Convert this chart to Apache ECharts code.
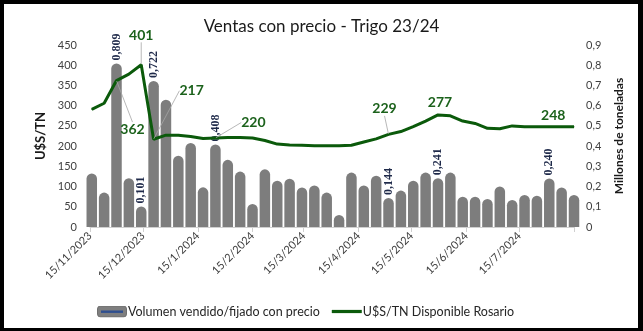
<!DOCTYPE html>
<html>
<head>
<meta charset="utf-8">
<script src="https://cdn.jsdelivr.net/npm/echarts@6/dist/echarts.min.js"></script>
<style>
  html, body { margin: 0; padding: 0; background: #fff; }
  #wrap { position: relative; width: 643px; height: 331px; }
  #chart { position: absolute; left: 0; top: 0; width: 643px; height: 331px; }
  #frame { position: absolute; left: 0; top: 0; width: 643px; height: 331px; box-sizing: border-box;
           border-style: solid; border-color: #000; border-width: 4px 5px 3px 4px; pointer-events: none; }
</style>
</head>
<body>
<div id="wrap"><div id="chart"></div><div id="frame"></div></div>
<script>
// Weekly wheat sales with price fixed (million tonnes) and Rosario spot price (USD/t)
const weekDates = [
  '16/11/2023','23/11/2023','30/11/2023','7/12/2023','14/12/2023','21/12/2023','28/12/2023',
  '4/1/2024','11/1/2024','18/1/2024','25/1/2024','1/2/2024','8/2/2024','15/2/2024','22/2/2024','29/2/2024',
  '7/3/2024','14/3/2024','21/3/2024','28/3/2024','4/4/2024','11/4/2024','18/4/2024','25/4/2024',
  '2/5/2024','9/5/2024','16/5/2024','23/5/2024','30/5/2024','6/6/2024','13/6/2024','20/6/2024','27/6/2024',
  '4/7/2024','11/7/2024','18/7/2024','25/7/2024','1/8/2024','8/8/2024','15/8/2024'
];
const volumeMt = [
  0.265, 0.170, 0.809, 0.241, 0.101, 0.722, 0.629, 0.352, 0.415, 0.196,
  0.408, 0.332, 0.274, 0.114, 0.285, 0.229, 0.239, 0.195, 0.205, 0.170,
  0.059, 0.269, 0.205, 0.254, 0.144, 0.180, 0.229, 0.269, 0.241, 0.269,
  0.150, 0.150, 0.139, 0.200, 0.134, 0.158, 0.155, 0.240, 0.195, 0.158
];
const priceUsd = [
  291, 306, 362, 378, 401, 217, 227, 227, 224, 219,
  220, 221, 221, 220, 214, 205, 203, 202, 201, 201,
  201, 202, 210, 218, 229, 236, 248, 262, 277, 275,
  262, 256, 244, 243, 250, 248, 248, 248, 248, 248
];
// weeks whose values are printed on the chart
const labelledWeeks = [2, 4, 5, 10, 24, 28, 37];
const monthTicks = ['15/11/2023','15/12/2023','15/1/2024','15/2/2024','15/3/2024','15/4/2024','15/5/2024','15/6/2024','15/7/2024'];
const axisStart = '15/11/2023';
const axisEnd = '15/8/2024';

const DAY = 86400000;
function toTime(s) {
  const p = s.split('/').map(Number);
  return Date.UTC(p[2], p[1] - 1, p[0]);
}
// x positions are whole days counted from the axis start
const toDay = (s) => Math.round((toTime(s) - toTime(axisStart)) / DAY);
const tickDays = monthTicks.map(toDay);
const tickText = {};
monthTicks.forEach((t) => { tickText[toDay(t)] = t; });
const comma = (v) => String(v).replace('.', ',');

// label placement for the price annotations (pixel shifts from the default "top" spot)
const priceLabelShift = { 2: [16, 61], 4: [0, -17], 5: [38, -36], 10: [38, -3], 24: [-4, -13], 28: [2, 0], 37: [4, 1] };
const noGuide = [28, 37];

const volumeData = weekDates.map((d, i) => {
  const item = { value: [toDay(d), volumeMt[i]] };
  if (labelledWeeks.includes(i)) item.label = { show: true };
  return item;
});
const priceData = weekDates.map((d, i) => {
  const item = { value: [toDay(d), priceUsd[i]] };
  if (labelledWeeks.includes(i)) {
    item.label = { show: true };
    item.labelLine = { show: !noGuide.includes(i) };
  }
  return item;
});

const font = 'Lato, "Open Sans", sans-serif';
const legendBarIcon = 'image://data:image/svg+xml;utf8,' + encodeURIComponent(
  '<svg xmlns="http://www.w3.org/2000/svg" width="30" height="12"><rect x="0.5" y="0.5" width="29" height="11" rx="3" fill="#7f7f7f" stroke="#6f6f6f"/><rect x="4" y="5" width="22" height="2.4" fill="#2f4f8f"/></svg>'
);

const chart = echarts.init(document.getElementById('chart'), null, { renderer: 'canvas' });
chart.setOption({
  animation: false,
  backgroundColor: '#fff',
  title: {
    text: 'Ventas con precio - Trigo 23/24',
    left: 'center', top: 13,
    textStyle: { fontFamily: font, fontSize: 17, fontWeight: 'normal', color: '#1a1a1a' }
  },
  legend: {
    left: 92, top: 300,
    itemWidth: 30, itemHeight: 12, itemGap: 12,
    textStyle: { fontFamily: font, fontSize: 12.5, color: '#262626', padding: [0, 0, 0, -4] },
    data: [
      { name: 'Volumen vendido/fijado con precio', icon: legendBarIcon },
      { name: 'U$S/TN Disponible Rosario', icon: 'path://M0,0H28V3H0Z', itemStyle: { color: '#0b5a0b' } }
    ]
  },
  grid: { left: 90, right: 69, top: 45, bottom: 104 },
  xAxis: {
    type: 'value',
    min: 0,
    max: toDay(axisEnd),
    splitLine: { show: false },
    axisLine: { lineStyle: { color: '#d0d0d0' } },
    axisTick: { show: true, length: 5, lineStyle: { color: '#d0d0d0' },
                customValues: tickDays.concat([toDay(axisEnd)]) },
    axisLabel: {
      rotate: 45, margin: 7, fontFamily: font, fontSize: 11, color: '#404040',
      customValues: tickDays,
      formatter: (v) => tickText[Math.round(v)] || ''
    }
  },
  yAxis: [
    {
      type: 'value', min: 0, max: 450, interval: 50,
      name: 'U$S/TN', nameLocation: 'middle', nameGap: 34, nameRotate: 90,
      nameTextStyle: { fontFamily: font, fontSize: 13, fontWeight: 'bold', color: '#1a1a1a' },
      splitLine: { show: false },
      axisLine: { show: false }, axisTick: { show: false },
      axisLabel: { margin: 13, fontFamily: font, fontSize: 11, color: '#404040' }
    },
    {
      type: 'value', min: 0, max: 0.9, interval: 0.1,
      name: 'Millones de toneladas', nameLocation: 'middle', nameGap: 39, nameRotate: 90,
      nameTextStyle: { fontFamily: font, fontSize: 12, fontWeight: 'bold', color: '#1a1a1a' },
      splitLine: { show: false },
      axisLine: { show: false }, axisTick: { show: false },
      axisLabel: { margin: 12, fontFamily: font, fontSize: 11, color: '#404040',
                   formatter: (v) => comma(Math.round(v * 10) / 10) }
    }
  ],
  series: [
    {
      name: 'Volumen vendido/fijado con precio',
      type: 'bar',
      yAxisIndex: 1,
      barWidth: 10.5,
      clip: true,
      itemStyle: { color: '#7d7d7d', borderRadius: [5.25, 5.25, 0, 0] },
      label: {
        show: false, position: 'top', rotate: 90, align: 'left', verticalAlign: 'middle', distance: 3,
        fontFamily: '"Liberation Serif", serif', fontWeight: 'bold', fontSize: 12, color: '#1f2a4a',
        formatter: (p) => comma(p.value[1].toFixed(3))
      },
      data: volumeData
    },
    {
      name: 'U$S/TN Disponible Rosario',
      type: 'line',
      yAxisIndex: 0,
      showSymbol: true,
      symbol: 'circle',
      symbolSize: 1,
      lineStyle: { color: '#0b5a0b', width: 3 },
      itemStyle: { color: '#0b5a0b' },
      label: {
        show: false, position: 'top', distance: 5,
        fontFamily: font, fontWeight: 'bold', fontSize: 14, color: '#1c621c',
        formatter: (p) => String(p.value[1])
      },
      labelLine: { show: true, lineStyle: { color: '#a6a6a6', width: 0.8 } },
      labelLayout: (p) => {
        const s = priceLabelShift[p.dataIndex];
        return s ? { dx: s[0], dy: s[1] } : {};
      },
      data: priceData,
      z: 5
    }
  ]
});
</script>
</body>
</html>
